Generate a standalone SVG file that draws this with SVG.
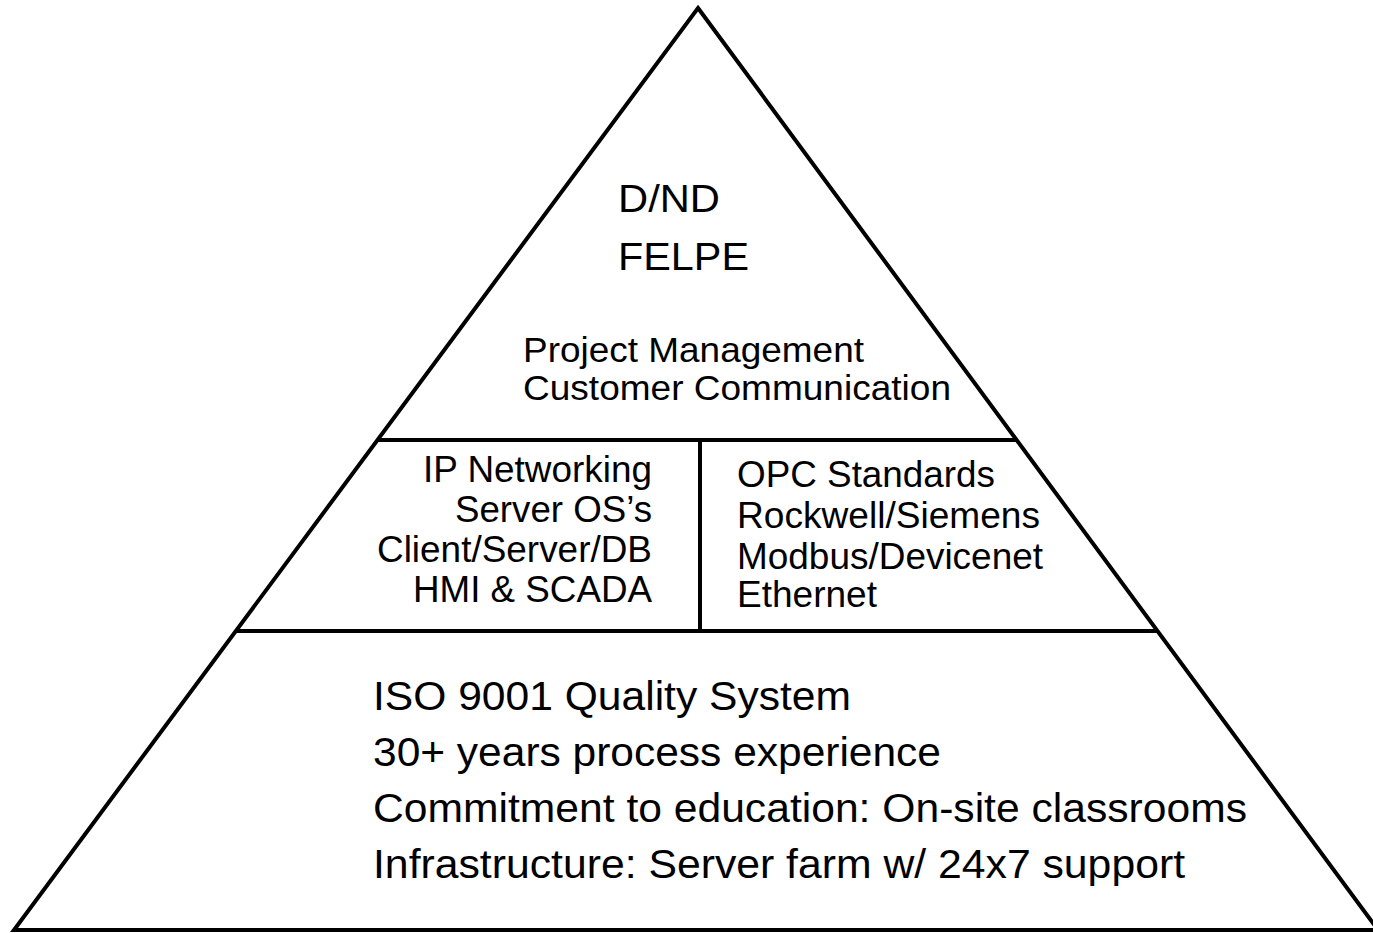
<svg xmlns="http://www.w3.org/2000/svg" width="1373" height="933" viewBox="0 0 1373 933">
  <style>
    .ln { stroke: #000; stroke-width: 4; fill: none; stroke-linejoin: miter; stroke-miterlimit: 10; }
    .t { font-family: "Liberation Sans", Arial, sans-serif; fill: #000; }
    .big { font-size: 39px; }
    .mid { font-size: 35px; }
    .col { font-size: 36px; }
    .base { font-size: 40px; }
  </style>
  <rect x="0" y="0" width="1373" height="933" fill="#ffffff"/>
  <g id="connectors">
    <polygon class="ln" points="698,8 1378,930 14,930"/>
    <line class="ln" x1="377" y1="440" x2="1017" y2="440"/>
    <line class="ln" x1="236" y1="631" x2="1157" y2="631"/>
    <line class="ln" x1="700" y1="440" x2="700" y2="631"/>
  </g>
  <g id="top">
    <text class="t big" x="618" y="212" textLength="102" lengthAdjust="spacingAndGlyphs">D/ND</text>
    <text class="t big" x="618" y="270" textLength="131" lengthAdjust="spacingAndGlyphs">FELPE</text>
    <text class="t mid" x="523" y="362" textLength="341" lengthAdjust="spacingAndGlyphs">Project Management</text>
    <text class="t mid" x="523" y="400" textLength="428" lengthAdjust="spacingAndGlyphs">Customer Communication</text>
  </g>
  <g id="middle-left">
    <text class="t col" x="652" y="482" text-anchor="end" textLength="229" lengthAdjust="spacingAndGlyphs">IP Networking</text>
    <text class="t col" x="652" y="522" text-anchor="end" textLength="197" lengthAdjust="spacingAndGlyphs">Server OS’s</text>
    <text class="t col" x="652" y="562" text-anchor="end" textLength="275" lengthAdjust="spacingAndGlyphs">Client/Server/DB</text>
    <text class="t col" x="652" y="602" text-anchor="end" textLength="239" lengthAdjust="spacingAndGlyphs">HMI &amp; SCADA</text>
  </g>
  <g id="middle-right">
    <text class="t col" x="737" y="487" textLength="258" lengthAdjust="spacingAndGlyphs">OPC Standards</text>
    <text class="t col" x="737" y="528" textLength="303" lengthAdjust="spacingAndGlyphs">Rockwell/Siemens</text>
    <text class="t col" x="737" y="569" textLength="306" lengthAdjust="spacingAndGlyphs">Modbus/Devicenet</text>
    <text class="t col" x="737" y="607" textLength="140" lengthAdjust="spacingAndGlyphs">Ethernet</text>
  </g>
  <g id="base">
    <text class="t base" x="373" y="710" textLength="478" lengthAdjust="spacingAndGlyphs">ISO 9001 Quality System</text>
    <text class="t base" x="373" y="766" textLength="568" lengthAdjust="spacingAndGlyphs">30+ years process experience</text>
    <text class="t base" x="373" y="822" textLength="874" lengthAdjust="spacingAndGlyphs">Commitment to education: On-site classrooms</text>
    <text class="t base" x="373" y="878" textLength="812" lengthAdjust="spacingAndGlyphs">Infrastructure: Server farm w/ 24x7 support</text>
  </g>
</svg>
